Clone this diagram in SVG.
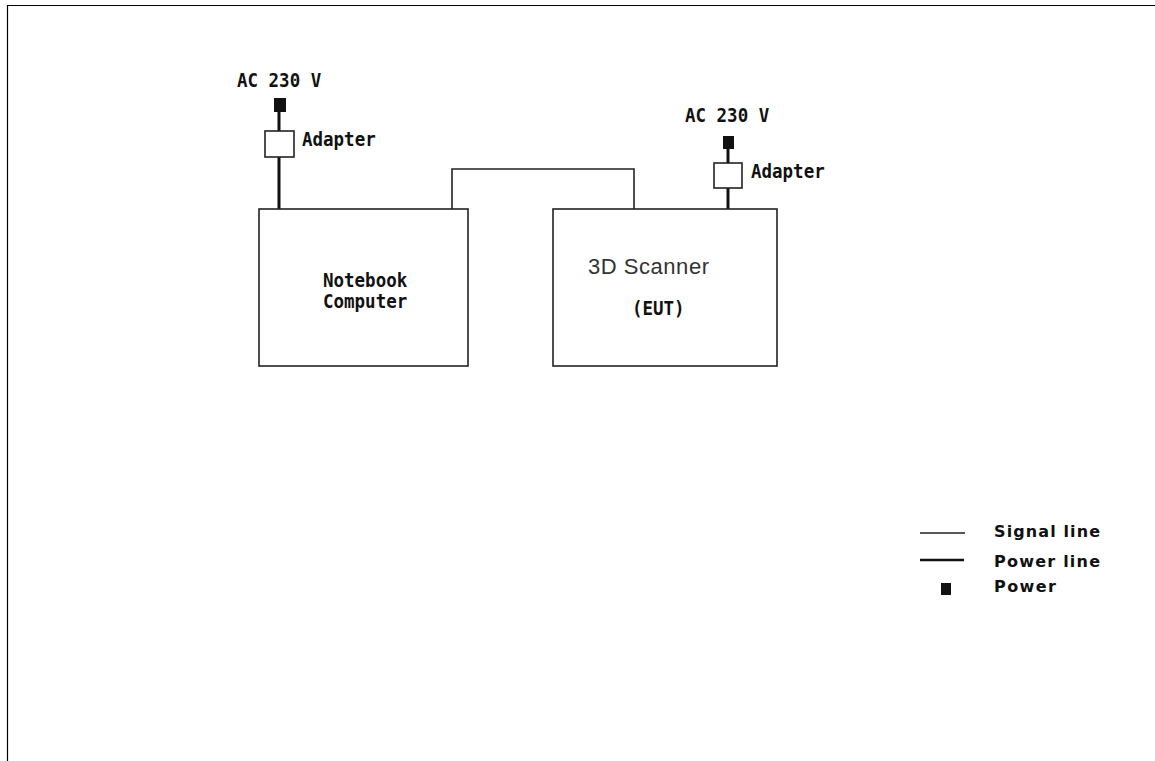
<svg xmlns="http://www.w3.org/2000/svg" width="1155" height="761" viewBox="0 0 1155 761">
<style>
.mono{font-family:"DejaVu Sans Mono","Liberation Mono",monospace;font-weight:bold;font-size:17.5px;fill:#111}
.leg{font-family:"DejaVu Sans","Liberation Sans",sans-serif;font-weight:bold;font-size:16px;fill:#111}
.box{fill:#fff;stroke:#222;stroke-width:1.6}
.sig{fill:none;stroke:#222;stroke-width:1.6}
.pwr{fill:none;stroke:#111;stroke-width:3}
.plug{fill:#111}
</style>
<rect width="1155" height="761" fill="#fff"/>
<path d="M7.5,761 V5.5 H1155" fill="none" stroke="#000" stroke-width="1.2"/>
<g id="connectors">
<path class="sig" d="M452,209 V169 H634 V209"/>
<path class="pwr" d="M279,112 V209"/>
<path class="pwr" d="M728,149 V209"/>
</g>
<g id="notebook">
<rect class="box" x="259" y="209" width="209" height="157"/>
<text class="mono" transform="translate(323,287) scale(1,1.15)">Notebook</text>
<text class="mono" transform="translate(323,308) scale(1,1.15)">Computer</text>
</g>
<g id="scanner">
<rect class="box" x="553" y="209" width="224" height="157"/>
<text x="588" y="274" font-family="Liberation Sans, Arial, sans-serif" font-size="22" fill="#333" textLength="121">3D Scanner</text>
<text class="mono" transform="translate(632,315) scale(1,1.15)">(EUT)</text>
</g>
<g id="power-left">
<text class="mono" transform="translate(237,87) scale(1,1.15)">AC 230 V</text>
<rect class="plug" x="274" y="98" width="12" height="14"/>
<rect class="box" x="265" y="131" width="29" height="26"/>
<text class="mono" transform="translate(302,146) scale(1,1.15)">Adapter</text>
</g>
<g id="power-right">
<text class="mono" transform="translate(685,122) scale(1,1.15)">AC 230 V</text>
<rect class="plug" x="723" y="136" width="11" height="13"/>
<rect class="box" x="714" y="163" width="28" height="25"/>
<text class="mono" transform="translate(751,178) scale(1,1.15)">Adapter</text>
</g>
<g id="legend">
<line class="sig" x1="920" y1="533" x2="965" y2="533"/>
<line x1="920" y1="560" x2="964" y2="560" stroke="#111" stroke-width="2.5"/>
<rect class="plug" x="941" y="583" width="10" height="12"/>
<text class="leg" x="994" y="537" textLength="106">Signal line</text>
<text class="leg" x="994" y="567" textLength="106">Power line</text>
<text class="leg" x="994" y="592" textLength="62">Power</text>
</g>
</svg>
